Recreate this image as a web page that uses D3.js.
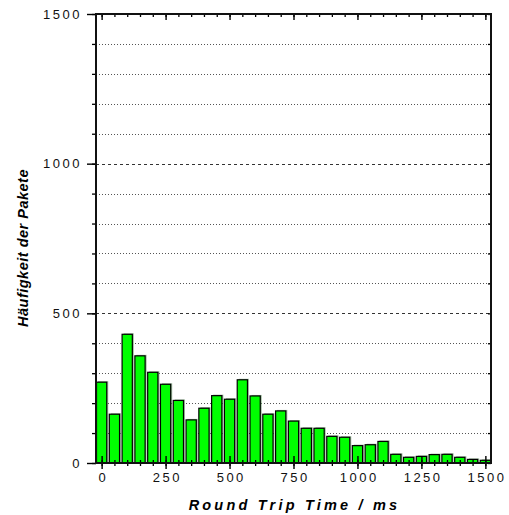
<!DOCTYPE html>
<html>
<head>
<meta charset="utf-8">
<script src="https://cdn.jsdelivr.net/npm/d3@7"></script>
<style>
  body { margin: 0; background: #fff; }
  svg { display: block; font-family: Arial, "Liberation Sans", sans-serif; }
</style>
</head>
<body>
<svg id="chart" width="509" height="515"></svg>
<script>
'use strict';

// bin centres (ms) and packet counts
var rttBins = [0, 50, 100, 150, 200, 250, 300, 350, 400, 450, 500, 550, 600, 650, 700, 750,
               800, 850, 900, 950, 1000, 1050, 1100, 1150, 1200, 1250, 1300, 1350, 1400, 1450, 1500];
var packetCounts = [270, 163, 430, 358, 303, 263, 209, 144, 183, 225, 213, 278, 224, 163, 174, 140,
                    116, 116, 89, 86, 58, 61, 72, 29, 19, 22, 28, 29, 19, 12, 9];

var xMajorTicks = [0, 250, 500, 750, 1000, 1250, 1500];
var xMinorTicks = d3.range(0, 1501, 50);
var yMajorTicks = [0, 500, 1000, 1500];
var yMinorTicks = d3.range(0, 1501, 100);

var margin = {top: 14, right: 18, bottom: 52, left: 96},
    width = 509 - margin.left - margin.right,
    height = 515 - margin.top - margin.bottom;

var x = d3.scaleLinear()
    .domain([-22, 1522])
    .range([0, width]);

var y = d3.scaleLinear()
    .domain([0, 1500])
    .range([height, 0]);

var chart = d3.select('#chart')
    .append("g")
    .attr("transform", "translate(" + margin.left + "," + margin.top + ")");

function styleLabels(g) {
    g.selectAll(".tick text")
        .attr("fill", "#111")
        .style("font-size", "13px")
        .style("font-family", "Arial, 'Liberation Sans', sans-serif")
        .style("letter-spacing", "2.5px");
}

// Grid lines
chart.selectAll(".grid")
    .data(yMinorTicks.filter(function(d) { return d > 0 && d < 1500; }))
    .enter().append("line")
    .attr("class", "grid")
    .attr("x1", 0)
    .attr("x2", width)
    .attr("y1", function(d) { return Math.round(y(d)) + 0.5; })
    .attr("y2", function(d) { return Math.round(y(d)) + 0.5; })
    .attr("stroke", function(d) { return d % 500 === 0 ? "#333" : "#555"; })
    .attr("stroke-width", 1)
    .attr("stroke-dasharray", function(d) { return d % 500 === 0 ? "3,3" : "1,2"; });

// Bars
var barW = x(40) - x(0);

chart.selectAll(".shadow")
    .data(rttBins)
    .enter().append("rect")
    .attr("class", "shadow")
    .attr("x", function(d) { return x(d) - barW / 2 + 1.5; })
    .attr("y", function(d, i) { return y(packetCounts[i]) - 1; })
    .attr("width", barW)
    .attr("height", function(d, i) { return height - y(packetCounts[i]) + 1; })
    .attr("fill", "#5f8f5f")
    .attr("opacity", 0.6);

chart.selectAll(".bar")
    .data(rttBins)
    .enter().append("rect")
    .attr("class", "bar")
    .attr("x", function(d) { return x(d) - barW / 2; })
    .attr("y", function(d, i) { return y(packetCounts[i]); })
    .attr("width", barW)
    .attr("height", function(d, i) { return height - y(packetCounts[i]); })
    .attr("fill", "#00ff00")
    .attr("stroke", "#000")
    .attr("stroke-width", 1.2);

// X Axis minor ticks (bottom, crossing)
chart.append("g")
    .attr("transform", "translate(0," + height + ")")
    .call(d3.axisBottom(x).tickValues(xMinorTicks).tickSize(3).tickFormat(""))
    .call(function(g) {
        g.select(".domain").remove();
        g.selectAll(".tick line").attr("y1", -3).attr("stroke-width", 1.3);
    });

// X Axis major ticks + labels
chart.append("g")
    .attr("class", "x axis")
    .attr("transform", "translate(0," + height + ")")
    .call(d3.axisBottom(x).tickValues(xMajorTicks).tickSize(6).tickPadding(4)
        .tickFormat(d3.format("d")))
    .call(function(g) {
        g.select(".domain").remove();
        g.selectAll(".tick line").attr("y1", -7).attr("stroke-width", 1.4);
        g.selectAll(".tick text").attr("dx", "1.2px");
    })
    .call(styleLabels);

// Top ticks (inside)
chart.append("g")
    .call(d3.axisBottom(x).tickValues(xMinorTicks).tickSize(3).tickFormat(""))
    .call(function(g) { g.select(".domain").remove(); g.selectAll(".tick line").attr("stroke-width", 1.3); });
chart.append("g")
    .call(d3.axisBottom(x).tickValues(xMajorTicks).tickSize(6).tickFormat(""))
    .call(function(g) { g.select(".domain").remove(); g.selectAll(".tick line").attr("stroke-width", 1.4); });

// Y Axis ticks
chart.append("g")
    .call(d3.axisLeft(y).tickValues(yMinorTicks).tickSize(4).tickFormat(""))
    .call(function(g) { g.select(".domain").remove(); g.selectAll(".tick line").attr("stroke-width", 1.3); });
chart.append("g")
    .attr("class", "y axis")
    .call(d3.axisLeft(y).tickValues(yMajorTicks).tickSize(9).tickPadding(5)
        .tickFormat(d3.format("d")))
    .call(function(g) { g.select(".domain").remove(); g.selectAll(".tick line").attr("stroke-width", 1.4); })
    .call(styleLabels);

// Right axis ticks (inside)
chart.append("g")
    .attr("transform", "translate(" + width + ",0)")
    .call(d3.axisLeft(y).tickValues(yMinorTicks).tickSize(3).tickFormat(""))
    .call(function(g) { g.select(".domain").remove(); g.selectAll(".tick line").attr("stroke-width", 1.3); });

// Frame
chart.append("rect")
    .attr("x", 0)
    .attr("y", 0)
    .attr("width", width)
    .attr("height", height)
    .attr("fill", "none")
    .attr("stroke", "#111")
    .attr("stroke-width", 2);

// Axis titles
chart.append("text")
    .attr("x", width / 2 + 1)
    .attr("y", height + 47)
    .attr("text-anchor", "middle")
    .style("font-size", "14.5px")
    .style("font-weight", "bold")
    .style("font-style", "italic")
    .style("letter-spacing", "3.2px")
    .text("Round Trip Time / ms");

chart.append("text")
    .attr("transform", "translate(-68," + (248 - margin.top) + ") rotate(-90)")
    .attr("text-anchor", "middle")
    .style("font-size", "14.5px")
    .style("font-weight", "bold")
    .style("font-style", "italic")
    .style("letter-spacing", "0.5px")
    .text("Häufigkeit der Pakete");
</script>
</body>
</html>
